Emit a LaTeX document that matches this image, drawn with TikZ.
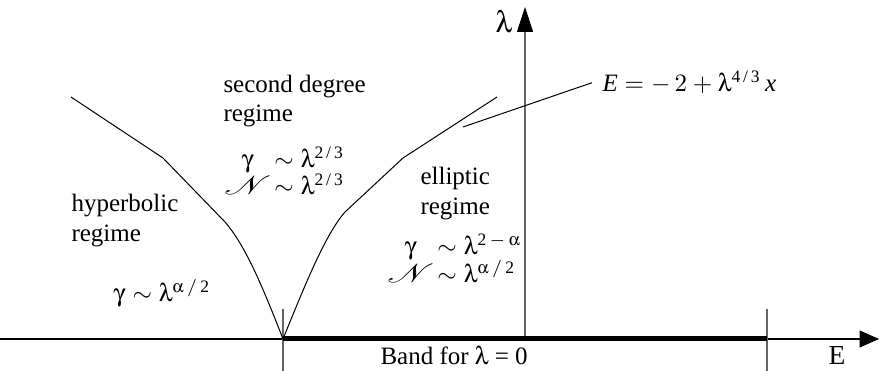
\documentclass[tikz,border=0pt]{standalone}
\usepackage{amsmath}
\usepackage{graphicx}
\usepackage{mathrsfs}
\usepackage[Symbol]{upgreek}
\usepackage{fontspec}
\setmainfont{Liberation Serif}
\usetikzlibrary{arrows.meta}

\newcommand{\gam}{\upgamma}
\newcommand{\lam}{\uplambda}
\newcommand{\alp}{\upalpha}
\newcommand{\calN}{\text{\scalebox{1.5}[1.05]{$\mathscr{N}$}}}
\newcommand{\frst}[1]{\makebox[15.6pt][c]{#1}}

\tikzset{
    txt/.style={inner sep=0pt, anchor=base west},
    haxis/.style={line width=0.45pt, -{Triangle[length=7.8pt, width=6.8pt]}},
    vaxis/.style={gray!80!black, line width=0.45pt, -{Triangle[length=10pt, width=6.4pt, color=black, fill=black]}},
    tick/.style={gray!80!black, line width=0.45pt},
    bound/.style={line width=0.4pt}
}

\begin{document}
\begin{tikzpicture}[x=0.4pt, y=-0.4pt, font=\fontsize{10}{12}\selectfont]
    \useasboundingbox (0,0) rectangle (879,371);

    % axes
    \coordinate (west) at (0,339);
    \coordinate (east) at (879,339);
    \coordinate (b1) at (283,339);
    \coordinate (b2) at (767,339);
    \coordinate (lam0) at (525,339);
    \coordinate (lamtop) at (525,7);

    \draw[haxis] (west) -- (east);
    \draw[vaxis] (lam0) -- (lamtop);
    \node[txt, font=\fontsize{12}{14}\selectfont] (lamlbl) at (495,33) {$\lam$};
    \node[txt, font=\fontsize{11}{13}\selectfont] (elbl) at (828,365) {E};

    % band
    \draw[tick] (283,309) -- (283,371);
    \draw[tick] (767,309) -- (767,371);
    \draw[line width=2pt] (b1) -- (b2);
    \node[txt] (band) at (380,365) {Band for $\lam$ = 0};

    % boundaries of the regimes
    \draw[bound] (b1) .. controls (262,285) and (245,245) .. (225,222) -- (163,158) -- (71,97);
    \draw[bound] (b1) .. controls (305,285) and (325,235) .. (345,212) -- (403,158) -- (497,97);

    % scaling curve
    \coordinate (ptr) at (463,127);
    \node[txt] (curve) at (602,92) {$\text{\itshape E} = -\,2 + \lam^{\text{4\,/\,3}}\,\text{\itshape x}$};
    \draw[bound] (ptr) -- ([xshift=-4pt]curve.west);

    % regimes
    \node[txt] (sd1) at (223,93) {second degree};
    \node[txt] (sd2) at (223,122) {regime};
    \node[txt] (sdg) at (228,168) {$\frst{$\gam$}\sim\lam^{\text{2\,/\,3}}$};
    \node[txt] (sdn) at (228,195) {$\frst{$\calN$}\sim\lam^{\text{2\,/\,3}}$};

    \node[txt] (hy1) at (71,212) {hyperbolic};
    \node[txt] (hy2) at (71,242) {regime};
    \node[txt] (hyg) at (113,302) {$\gam\sim\lam^{\alp\,/\,\text{2}}$};

    \node[txt] (el1) at (420,185) {elliptic};
    \node[txt] (el2) at (420,215) {regime};
    \node[txt] (elg) at (391,255) {$\frst{$\gam$}\sim\lam^{\text{2}\,-\,\alp}$};
    \node[txt] (eln) at (391,283) {$\frst{$\calN$}\sim\lam^{\alp\,/\,\text{2}}$};
\end{tikzpicture}
\end{document}
